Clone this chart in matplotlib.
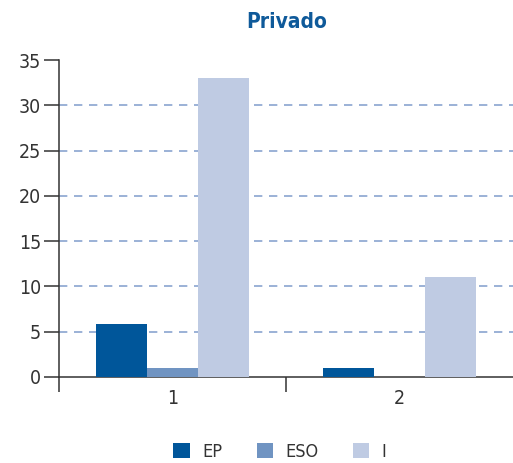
import matplotlib.pyplot as plt
import numpy as np

categories = ["1", "2"]
series = ["EP", "ESO", "I"]
ep = [5.85, 1]
eso = [1, 0]
i_vals = [33, 11]
colors = ["#00569A", "#7094C2", "#BFCBE3"]

plt.rcParams['font.family'] = ['DejaVu Sans']
plt.rcParams['font.stretch'] = 'condensed'

fig = plt.figure(figsize=(5.13, 4.63), dpi=100)
ax = fig.add_axes([59/513, 1-377/463, 454/513, 317/463])

x = np.arange(1, len(categories) + 1)
w = 0.225
for k, (vals, c, lab) in enumerate(zip([ep, eso, i_vals], colors, series)):
    ax.bar(x + (k - 1) * w, vals, width=w, color=c, label=lab, zorder=3)

ax.set_xlim(0.5, 2.5)
ax.set_ylim(0, 35)
ax.set_yticks(range(0, 36, 5))
ax.set_xticks(x)
ax.set_xticklabels(categories)
ax.set_xticks([0.5, 1.5], minor=True)
ax.tick_params(axis='x', which='major', length=0, pad=9, labelsize=14, colors='#333333')
ax.tick_params(axis='x', which='minor', length=11, direction='out', color='#333333', width=1.1)
ax.tick_params(axis='y', length=11, direction='out', labelsize=14, colors='#333333', pad=2, width=1.1)

for sp in ['top', 'right']:
    ax.spines[sp].set_visible(False)
for sp in ['left', 'bottom']:
    ax.spines[sp].set_color('#333333')
    ax.spines[sp].set_linewidth(1.1)

ax.yaxis.grid(True, linestyle=(0, (5, 4)), color='#8AA4CF', linewidth=1.2)
ax.get_ygridlines()[-1].set_visible(False)
ax.get_ygridlines()[0].set_visible(False)

fig.text(287/513, 1-22/463, "Privado", ha='center', va='center',
         fontsize=15, fontweight='bold', color='#0F5A9A')

fig.legend(loc='center', bbox_to_anchor=(280/513, 1-452/463), ncol=3,
           frameon=False, fontsize=13, handlelength=0.9, handleheight=0.9,
           columnspacing=1.9, handletextpad=0.7, labelcolor='#333333')

fig.savefig("out.png", dpi=100)
